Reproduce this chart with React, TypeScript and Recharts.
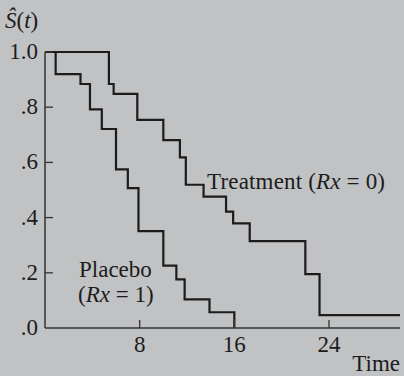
import { LineChart, Line, XAxis, YAxis } from 'recharts';

const placeboTimes = [0, 0.9, 3, 3.8, 4.8, 6, 7, 7.9, 10, 11.1, 11.8, 13.9, 16];
const placeboSurv = [1.0, 0.92, 0.884, 0.792, 0.721, 0.575, 0.507, 0.351, 0.226, 0.176, 0.104, 0.057, 0];

const treatTimes = [0, 5.4, 5.8, 7.8, 10, 11.4, 11.9, 13.4, 15.3, 15.9, 17.3, 22, 23.2, 30];
const treatSurv = [1.0, 0.884, 0.848, 0.754, 0.681, 0.618, 0.519, 0.476, 0.422, 0.379, 0.315, 0.195, 0.047, 0.047];

const yTicks = [0, 0.2, 0.4, 0.6, 0.8, 1.0];
const yTickLabels = ['.0', '.2', '.4', '.6', '.8', '1.0'];
const xTicks = [8, 16, 24];

const placebo = placeboTimes.map((t, i) => ({ t, s: placeboSurv[i] }));
const treatment = treatTimes.map((t, i) => ({ t, s: treatSurv[i] }));

const FONT = '"Liberation Serif", "Times New Roman", serif';
const INK = '#1c1c1c';

function YTick(props: any) {
  const { x, y, payload } = props;
  const i = yTicks.indexOf(payload.value);
  return (
    <g>
      {payload.value > 0 && <line x1={x} x2={x + 8} y1={y} y2={y} stroke="#333" strokeWidth={1.3} />}
      <text x={x - 7} y={y + 7} textAnchor="end" fontFamily={FONT} fontSize={23} fill={INK}>
        {yTickLabels[i]}
      </text>
    </g>
  );
}

function XTick(props: any) {
  const { x, y, payload } = props;
  return (
    <g>
      <line x1={x} x2={x} y1={y} y2={y - 8} stroke="#333" strokeWidth={1.3} />
      <text x={x} y={y + 24} textAnchor="middle" fontFamily={FONT} fontSize={23} fill={INK}>
        {payload.value}
      </text>
    </g>
  );
}

export default function App() {
  return (
    <div style={{ position: 'absolute', left: 0, top: 0, width: 404, height: 376, background: '#c1c2c4' }}>
      <LineChart width={404} height={376} margin={{ top: 52, right: 4, left: 0, bottom: 0 }}>
        <XAxis
          dataKey="t"
          type="number"
          domain={[0, 30]}
          ticks={xTicks}
          height={48}
          tickSize={0}
          tickMargin={0}
          tickLine={false}
          axisLine={{ stroke: '#333', strokeWidth: 1.5 }}
          tick={<XTick />}
        />
        <YAxis
          type="number"
          domain={[0, 1]}
          ticks={yTicks}
          width={45}
          tickSize={0}
          tickMargin={0}
          tickLine={false}
          axisLine={{ stroke: '#333', strokeWidth: 1.5 }}
          tick={<YTick />}
        />
        <Line
          data={treatment}
          dataKey="s"
          type="stepAfter"
          stroke={INK}
          strokeWidth={2.2}
          dot={false}
          isAnimationActive={false}
        />
        <Line
          data={placebo}
          dataKey="s"
          type="stepAfter"
          stroke={INK}
          strokeWidth={2.2}
          dot={false}
          isAnimationActive={false}
        />
        <text x={5} y={28} fontFamily={FONT} fontSize={23} fill={INK}>
          <tspan fontStyle="italic">Ŝ</tspan>(<tspan fontStyle="italic">t</tspan>)
        </text>
        <text x={400} y={371} textAnchor="end" fontFamily={FONT} fontSize={23} fill={INK}>
          Time
        </text>
        <text x={207} y={189} fontFamily={FONT} fontSize={23} fill={INK} textLength={178} lengthAdjust="spacing">
          Treatment (<tspan fontStyle="italic">Rx</tspan> = 0)
        </text>
        <text x={79} y={277} fontFamily={FONT} fontSize={23} fill={INK}>
          Placebo
        </text>
        <text x={78} y={302} fontFamily={FONT} fontSize={23} fill={INK}>
          (<tspan fontStyle="italic">Rx</tspan> = 1)
        </text>
      </LineChart>
    </div>
  );
}
